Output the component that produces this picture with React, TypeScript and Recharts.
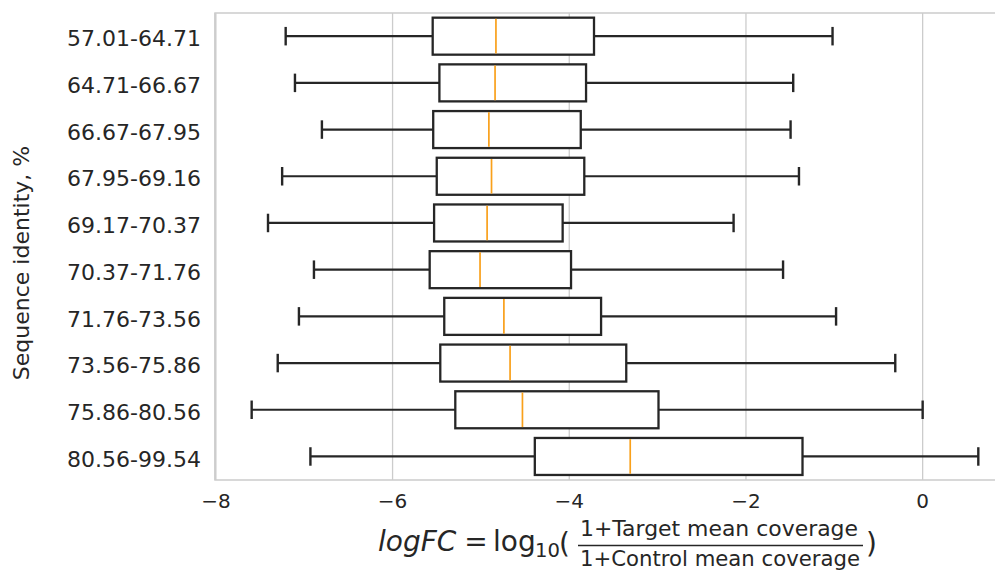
import React from 'react';
import { ComposedChart, Bar, XAxis, YAxis, CartesianGrid, ReferenceArea } from 'recharts';

const categories = [
  '57.01-64.71', '64.71-66.67', '66.67-67.95', '67.95-69.16', '69.17-70.37',
  '70.37-71.76', '71.76-73.56', '73.56-75.86', '75.86-80.56', '80.56-99.54',
];
const whiskerLow = [-7.21, -7.105, -6.8, -7.25, -7.41, -6.89, -7.06, -7.3, -7.595, -6.93];
const q1Values = [-5.546, -5.47, -5.54, -5.5, -5.53, -5.58, -5.415, -5.46, -5.29, -4.39];
const medians = [-4.83, -4.84, -4.91, -4.88, -4.93, -5.01, -4.74, -4.67, -4.53, -3.31];
const q3Values = [-3.72, -3.81, -3.87, -3.83, -4.075, -3.98, -3.64, -3.355, -2.99, -1.36];
const whiskerHigh = [-1.02, -1.465, -1.495, -1.4, -2.14, -1.58, -0.98, -0.31, 0.0, 0.63];
const xTicks = [-8, -6, -4, -2, 0];
const xDomain: [number, number] = [-8.01, 1.0];

const data = categories.map((name, i) => ({
  name,
  lo: whiskerLow[i],
  q1: q1Values[i],
  med: medians[i],
  q3: q3Values[i],
  hi: whiskerHigh[i],
  range: [whiskerLow[i], whiskerHigh[i]],
}));

const INK = '#262626';
const FONT = '"DejaVu Sans", Verdana, sans-serif';

const BoxShape = (props: any) => {
  const { x, y, width, height, payload } = props;
  if (!payload) return null;
  const { lo, hi, q1, med, q3 } = payload;
  const s = (v: number) => x + ((v - lo) / (hi - lo)) * width;
  const cy = y + height / 2;
  const capH = height / 4;
  return (
    <g>
      <line x1={s(lo)} x2={s(q1)} y1={cy} y2={cy} stroke={INK} strokeWidth={2.2} />
      <line x1={s(q3)} x2={s(hi)} y1={cy} y2={cy} stroke={INK} strokeWidth={2.2} />
      <line x1={s(lo)} x2={s(lo)} y1={cy - capH} y2={cy + capH} stroke={INK} strokeWidth={2.4} />
      <line x1={s(hi)} x2={s(hi)} y1={cy - capH} y2={cy + capH} stroke={INK} strokeWidth={2.4} />
      <rect x={s(q1)} y={y} width={s(q3) - s(q1)} height={height} fill="#ffffff" stroke={INK} strokeWidth={2.3} />
      <line x1={s(med)} x2={s(med)} y1={y + 1.2} y2={y + height - 1.2} stroke="#f9a01b" strokeWidth={1.7} />
    </g>
  );
};

const XTick = (props: any) => {
  const { x, y, payload } = props;
  const v = payload.value as number;
  const label = v < 0 ? '\u2212' + Math.abs(v) : String(v);
  return (
    <text x={x} y={y + 26} textAnchor="middle" fontFamily={FONT} fontSize={20} fill={INK}>
      {label}
    </text>
  );
};

const YTick = (props: any) => {
  const { x, y, payload } = props;
  return (
    <text x={x - 12} y={y + 10} textAnchor="end" fontFamily={FONT} fontSize={22} fill={INK}>
      {payload.value}
    </text>
  );
};

const XLabel = () => (
  <g fill={INK} fontFamily={FONT}>
    <text x={378} y={551} fontSize={28} fontStyle="italic">logFC</text>
    <text x={476} y={551} fontSize={28} textAnchor="middle">=</text>
    <text x={493} y={551} fontSize={28}>log</text>
    <text x={535} y={557} fontSize={19.6}>10</text>
    <text x={559} y={553} fontSize={28}>(</text>
    <text x={580} y={536} fontSize={20.5} textLength={278} lengthAdjust="spacingAndGlyphs">1+Target mean coverage</text>
    <line x1={578} x2={863} y1={545.5} y2={545.5} stroke={INK} strokeWidth={1.6} />
    <text x={580} y={565.5} fontSize={20.5} textLength={280} lengthAdjust="spacingAndGlyphs">1+Control mean coverage</text>
    <text x={866} y={553} fontSize={28}>)</text>
  </g>
);

const YLabel = () => (
  <text transform="translate(29,263) rotate(-90)" textAnchor="middle" fontFamily={FONT} fontSize={22} fill={INK}>
    Sequence identity, %
  </text>
);

export default function App() {
  return (
    <div style={{ position: 'absolute', left: 0, top: 0, width: 995, height: 571, overflow: 'hidden', background: '#ffffff' }}>
      <ComposedChart
        width={1011}
        height={571}
        layout="vertical"
        data={data}
        margin={{ top: 13, right: 0, bottom: 0, left: 0 }}
        barCategoryGap="10%"
      >
        <CartesianGrid horizontal={false} stroke="#cccccc" strokeWidth={1.3} />
        <ReferenceArea x1={xDomain[0]} x2={xDomain[1]} fill="none" stroke="#cccccc" strokeWidth={1.5} ifOverflow="visible" />
        <XAxis
          type="number"
          domain={xDomain}
          ticks={xTicks}
          allowDataOverflow
          height={91}
          tickLine={false}
          axisLine={false}
          tickSize={0}
          tick={<XTick />}
          label={{ content: () => <XLabel /> }}
        />
        <YAxis
          type="category"
          dataKey="name"
          width={215}
          tickLine={false}
          axisLine={false}
          tickSize={0}
          interval={0}
          tick={<YTick />}
          label={{ content: () => <YLabel /> }}
        />
        <Bar dataKey="range" shape={<BoxShape />} isAnimationActive={false} />
      </ComposedChart>
    </div>
  );
}
